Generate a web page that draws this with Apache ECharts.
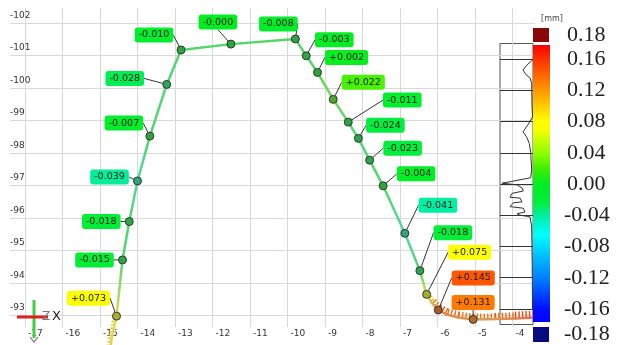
<!DOCTYPE html>
<html>
<head>
<meta charset="utf-8">
<script src="https://cdn.jsdelivr.net/npm/echarts@6/dist/echarts.min.js"></script>
<style>
  html, body { margin: 0; padding: 0; background: #fff; }
  #chart { width: 623px; height: 345px; }
</style>
</head>
<body>
<div id="chart"></div>
<script>
// Measured points on the profile: X and Z position [mm] and deviation [mm]
const pointX = [-14.56, -14.40, -14.22, -14.00, -13.67, -13.22, -12.84, -11.51, -9.79, -9.50, -9.20,
                -8.78, -8.38, -8.11, -7.81, -7.45, -6.87, -6.47, -6.29, -5.98, -5.05];
const pointZ = [-92.98, -94.71, -95.89, -97.14, -98.52, -100.11, -101.17, -101.35, -101.51, -100.99, -100.48,
                -99.65, -98.95, -98.45, -97.78, -96.99, -95.53, -94.38, -93.65, -93.17, -92.88];
const pointDev = [0.073, -0.015, -0.018, -0.039, -0.007, -0.028, -0.010, -0, -0.008, -0.003, 0.002,
                  0.022, -0.011, -0.024, -0.023, -0.004, -0.041, -0.018, 0.075, 0.145, 0.131];

// Further scanned vertices of the profile (lower end, bend and tail)
const pathX = [-14.72, -14.68, -6.15, -5.75, -5.45, -4.47, -3.93, -3.40];
const pathZ = [-92.05, -92.36, -93.39, -93.03, -92.94, -92.89, -92.91, -92.94];
const pathDev = [0.09, 0.085, 0.11, 0.14, 0.135, 0.13, 0.145, 0.165];

// Deviation histogram beside the colour scale
const histDev = [0.159, 0.152, 0.146, 0.140, 0.136, 0.129, 0.100, 0.086, 0.076, 0.067, 0.060, 0.052,
                 0.040, 0.018, 0.008, 0.001, -0.001, -0.005, -0.009, -0.012, -0.017, -0.018, -0.023,
                 -0.024, -0.029, -0.031, -0.036, -0.038, -0.040, -0.042, -0.055, -0.100, -0.160];
const histCount = [0.5, 6.3, 10, 7, 3, 1.3, 1, 0.5, 5, 10, 6.3, 3.7,
                   2.3, 1.3, 2.3, 31, 16, 11, 9.7, 21, 23, 13, 11,
                   19.7, 23, 9.7, 8, 16, 13, 3, 1.3, 0.8, 0.5];

// Colour scale tick labels [mm]
const scaleTicks = [0.16, 0.12, 0.08, 0.04, 0.00, -0.04, -0.08, -0.12, -0.16];
const scaleEnds = [0.18, -0.18];

// Colour scale stops: deviation -> colour
const colorStops = [
  [0.18, '#ff0000'], [0.16, '#ff3000'], [0.12, '#ff9800'], [0.08, '#ffff00'], [0.07, '#f8ff00'],
  [0.04, '#90ff00'], [0.02, '#40f000'], [0.00, '#00ee20'], [-0.025, '#00ee40'], [-0.04, '#00eea0'],
  [-0.065, '#00ffff'], [-0.12, '#0080ff'], [-0.16, '#0010ff'], [-0.18, '#0000ff']
];

// Callout placement (label centre relative to the point, px)
const calloutOffset = [[-28, -18], [-28, 0], [-28, 0], [-28, -4], [-26, -13], [-42, -6], [-27, -15],
  [-13, -22], [-17, -15], [28, -16], [29, -15], [30, -17], [54, -22], [27, -13], [33, -12],
  [33, -12], [33, -28], [33, -38], [43, -42], [35, -32], [0, -17]];

function hexToRgb(h) {
  return [parseInt(h.slice(1, 3), 16), parseInt(h.slice(3, 5), 16), parseInt(h.slice(5, 7), 16)];
}
function rgbStr(c) { return 'rgb(' + c.map(Math.round).join(',') + ')'; }
function mix(a, b, t) { return a.map((v, i) => v + (b[i] - v) * t); }
function devRgb(v) {
  const s = colorStops;
  if (v >= s[0][0]) return hexToRgb(s[0][1]);
  for (let i = 1; i < s.length; i++) {
    if (v >= s[i][0]) {
      const t = (s[i - 1][0] - v) / (s[i - 1][0] - s[i][0]);
      return mix(hexToRgb(s[i - 1][1]), hexToRgb(s[i][1]), t);
    }
  }
  return hexToRgb(s[s.length - 1][1]);
}
function fmtDev(v) {
  const neg = v < 0 || Object.is(v, -0);
  return (neg ? '-' : '+') + Math.abs(v).toFixed(3);
}

// Whole profile, ordered along the path (X increases monotonically along it)
const profile = pointX.map((x, i) => [x, pointZ[i], pointDev[i]])
  .concat(pathX.map((x, i) => [x, pathZ[i], pathDev[i]]))
  .sort((a, b) => a[0] - b[0]);
const segments = [];
for (let i = 0; i < profile.length - 1; i++) {
  segments.push([profile[i][0], profile[i][1], profile[i + 1][0], profile[i + 1][1], profile[i][2], profile[i + 1][2]]);
}

// Colour bar geometry
const barX = 533, barW = 17, barTop = 45, barBottom = 322;
const zeroY = 184, pxPerMm = 781;
const scaleY = v => zeroY - v * pxPerMm;
const barGradient = colorStops.map(([v, c]) => ({
  offset: Math.min(1, Math.max(0, (scaleY(v) - barTop) / (barBottom - barTop))),
  color: c
})).sort((a, b) => a.offset - b.offset);

const serif = '"Liberation Serif", "DejaVu Serif", serif';
const graphics = [
  { type: 'rect', shape: { x: barX, y: barTop, width: barW, height: barBottom - barTop },
    style: { fill: new echarts.graphic.LinearGradient(0, 0, 0, 1, barGradient) }, z: 10 },
  { type: 'rect', shape: { x: barX, y: 28, width: barW - 1, height: 14 }, style: { fill: '#880808' }, z: 10 },
  { type: 'rect', shape: { x: barX, y: 327, width: barW - 1, height: 15 }, style: { fill: '#0a0a80' }, z: 10 },
  { type: 'text', x: 552, y: 19, style: { text: '[mm]', font: '8px "DejaVu Sans"', fill: '#444', align: 'center', verticalAlign: 'middle' }, z: 10 },
  { type: 'text', x: 567, y: 35, style: { text: scaleEnds[0].toFixed(2), font: '22px ' + serif, fill: '#222', align: 'left', verticalAlign: 'middle' }, z: 10 },
  { type: 'text', x: 564, y: 334, style: { text: scaleEnds[1].toFixed(2), font: '22px ' + serif, fill: '#222', align: 'left', verticalAlign: 'middle' }, z: 10 }
];
scaleTicks.forEach(v => {
  graphics.push({ type: 'text', x: v < 0 ? 564 : 567, y: scaleY(v),
    style: { text: v.toFixed(2), font: '22px ' + serif, fill: '#222', align: 'left', verticalAlign: 'middle' }, z: 10 });
});
// Coordinate triad (Z down, X right)
graphics.push(
  { type: 'line', shape: { x1: 34, y1: 300, x2: 34, y2: 338 }, style: { stroke: '#44cc44', lineWidth: 3 }, z: 10 },
  { type: 'line', shape: { x1: 17, y1: 317, x2: 48, y2: 317 }, style: { stroke: '#e02020', lineWidth: 3 }, z: 10 },
  { type: 'polyline', shape: { points: [[30, 337], [34, 342], [38, 337]] }, style: { stroke: '#777', lineWidth: 1.2, fill: null }, z: 10 },
  { type: 'text', x: 42, y: 317, style: { text: 'Z', font: '12px "DejaVu Sans"', fill: '#777', verticalAlign: 'middle' }, z: 10 },
  { type: 'text', x: 52, y: 317, style: { text: 'X', font: '13px "DejaVu Sans"', fill: '#222', verticalAlign: 'middle' }, z: 10 }
);

const chart = echarts.init(document.getElementById('chart'));
chart.setOption({
  animation: false,
  backgroundColor: '#fff',
  grid: [
    { left: 10, top: 8, width: 525, height: 319 },
    { left: 500, top: 43.5, width: 33, height: 281, show: true, borderColor: '#555', borderWidth: 1, backgroundColor: 'transparent' }
  ],
  xAxis: [
    { type: 'value', gridIndex: 0, min: -17.4, max: -3.4, splitNumber: 14,
      axisLine: { show: false }, axisTick: { show: false },
      axisLabel: { showMinLabel: false, showMaxLabel: false, align: 'left', padding: [0, 0, 0, 3], margin: 2,
        fontSize: 9, fontFamily: 'DejaVu Sans', color: '#333' },
      splitLine: { show: true, showMinLine: false, showMaxLine: false, lineStyle: { color: '#d8d8d8', width: 1 } } },
    { type: 'value', gridIndex: 1, min: 0, max: 33, inverse: true, show: false }
  ],
  yAxis: [
    { type: 'value', gridIndex: 0, inverse: true, min: -102.4615, max: -92.646, splitNumber: 10,
      axisLine: { show: false }, axisTick: { show: false },
      axisLabel: { inside: true, showMinLabel: false, showMaxLabel: false, align: 'left', verticalAlign: 'bottom',
        margin: 0, padding: [0, 0, 3, 0], fontSize: 9, fontFamily: 'DejaVu Sans', color: '#333' },
      splitLine: { show: true, showMinLine: false, showMaxLine: false, lineStyle: { color: '#d8d8d8', width: 1 } } },
    { type: 'value', gridIndex: 1, min: -0.18, max: 0.18, show: false }
  ],
  series: [
    {
      type: 'custom',
      name: 'profile',
      xAxisIndex: 0, yAxisIndex: 0,
      clip: false,
      z: 2,
      silent: true,
      encode: { x: [0, 2], y: [1, 3] },
      data: segments,
      renderItem(params, api) {
        const a = api.coord([api.value(0), api.value(1)]);
        const b = api.coord([api.value(2), api.value(3)]);
        const d1 = api.value(4), d2 = api.value(5);
        const grey = [184, 184, 184];
        const stroke = new echarts.graphic.LinearGradient(a[0], a[1], b[0], b[1], [
          { offset: 0, color: rgbStr(mix(devRgb(d1), grey, 0.45)) },
          { offset: 1, color: rgbStr(mix(devRgb(d2), grey, 0.45)) }
        ], true);
        const children = [];
        const dm = (d1 + d2) / 2;
        if (Math.abs(dm) > 0.05) {
          // deviation whiskers, length scaled by the deviation
          const w = Math.abs(dm) * 44;
          const dx = b[0] - a[0], dy = b[1] - a[1];
          const len = Math.hypot(dx, dy) || 1;
          const nx = dy / len * w / 2, ny = -dx / len * w / 2;
          children.push({ type: 'line',
            shape: { x1: a[0] + nx, y1: a[1] + ny, x2: b[0] + nx, y2: b[1] + ny },
            style: { stroke: rgbStr(mix(devRgb(dm), [200, 100, 40], 0.35)), lineWidth: w, lineDash: [1.4, 2.1], opacity: 1 } });
        }
        children.push({ type: 'line', shape: { x1: a[0], y1: a[1], x2: b[0], y2: b[1] },
          style: { stroke: stroke, lineWidth: 2.5, lineCap: 'round' } });
        return { type: 'group', children };
      }
    },
    {
      type: 'scatter',
      name: 'points',
      xAxisIndex: 0, yAxisIndex: 0,
      z: 5,
      symbolSize: 8,
      emphasis: { disabled: true },
      itemStyle: { borderColor: '#2e3a2e', borderWidth: 1, opacity: 1 },
      data: pointX.map((x, i) => ({
        value: [x, pointZ[i], pointDev[i]],
        itemStyle: { color: rgbStr(mix(devRgb(pointDev[i]), [90, 90, 90], 0.5)) },
        label: { backgroundColor: rgbStr(devRgb(pointDev[i])) }
      })),
      label: {
        show: true, position: 'inside',
        formatter: p => fmtDev(p.value[2]),
        fontSize: 9.5, fontFamily: 'DejaVu Sans', color: '#1a1a1a',
        padding: [3, 4, 2, 4], borderRadius: 3
      },
      labelLine: { show: true, lineStyle: { color: '#333', width: 1 } },
      labelLayout: p => ({ dx: calloutOffset[p.dataIndex][0], dy: calloutOffset[p.dataIndex][1] })
    },
    {
      type: 'line',
      name: 'histogram',
      xAxisIndex: 1, yAxisIndex: 1,
      z: 6,
      symbol: 'none',
      silent: true,
      lineStyle: { color: '#333', width: 1 },
      data: histCount.map((c, i) => [c, histDev[i]]),
      markLine: {
        silent: true, symbol: ['none', 'none'], label: { show: false },
        lineStyle: { color: '#333', type: 'solid', width: 1 },
        data: scaleTicks.map(v => ({ yAxis: v }))
      }
    }
  ],
  graphic: graphics
});
</script>
</body>
</html>
